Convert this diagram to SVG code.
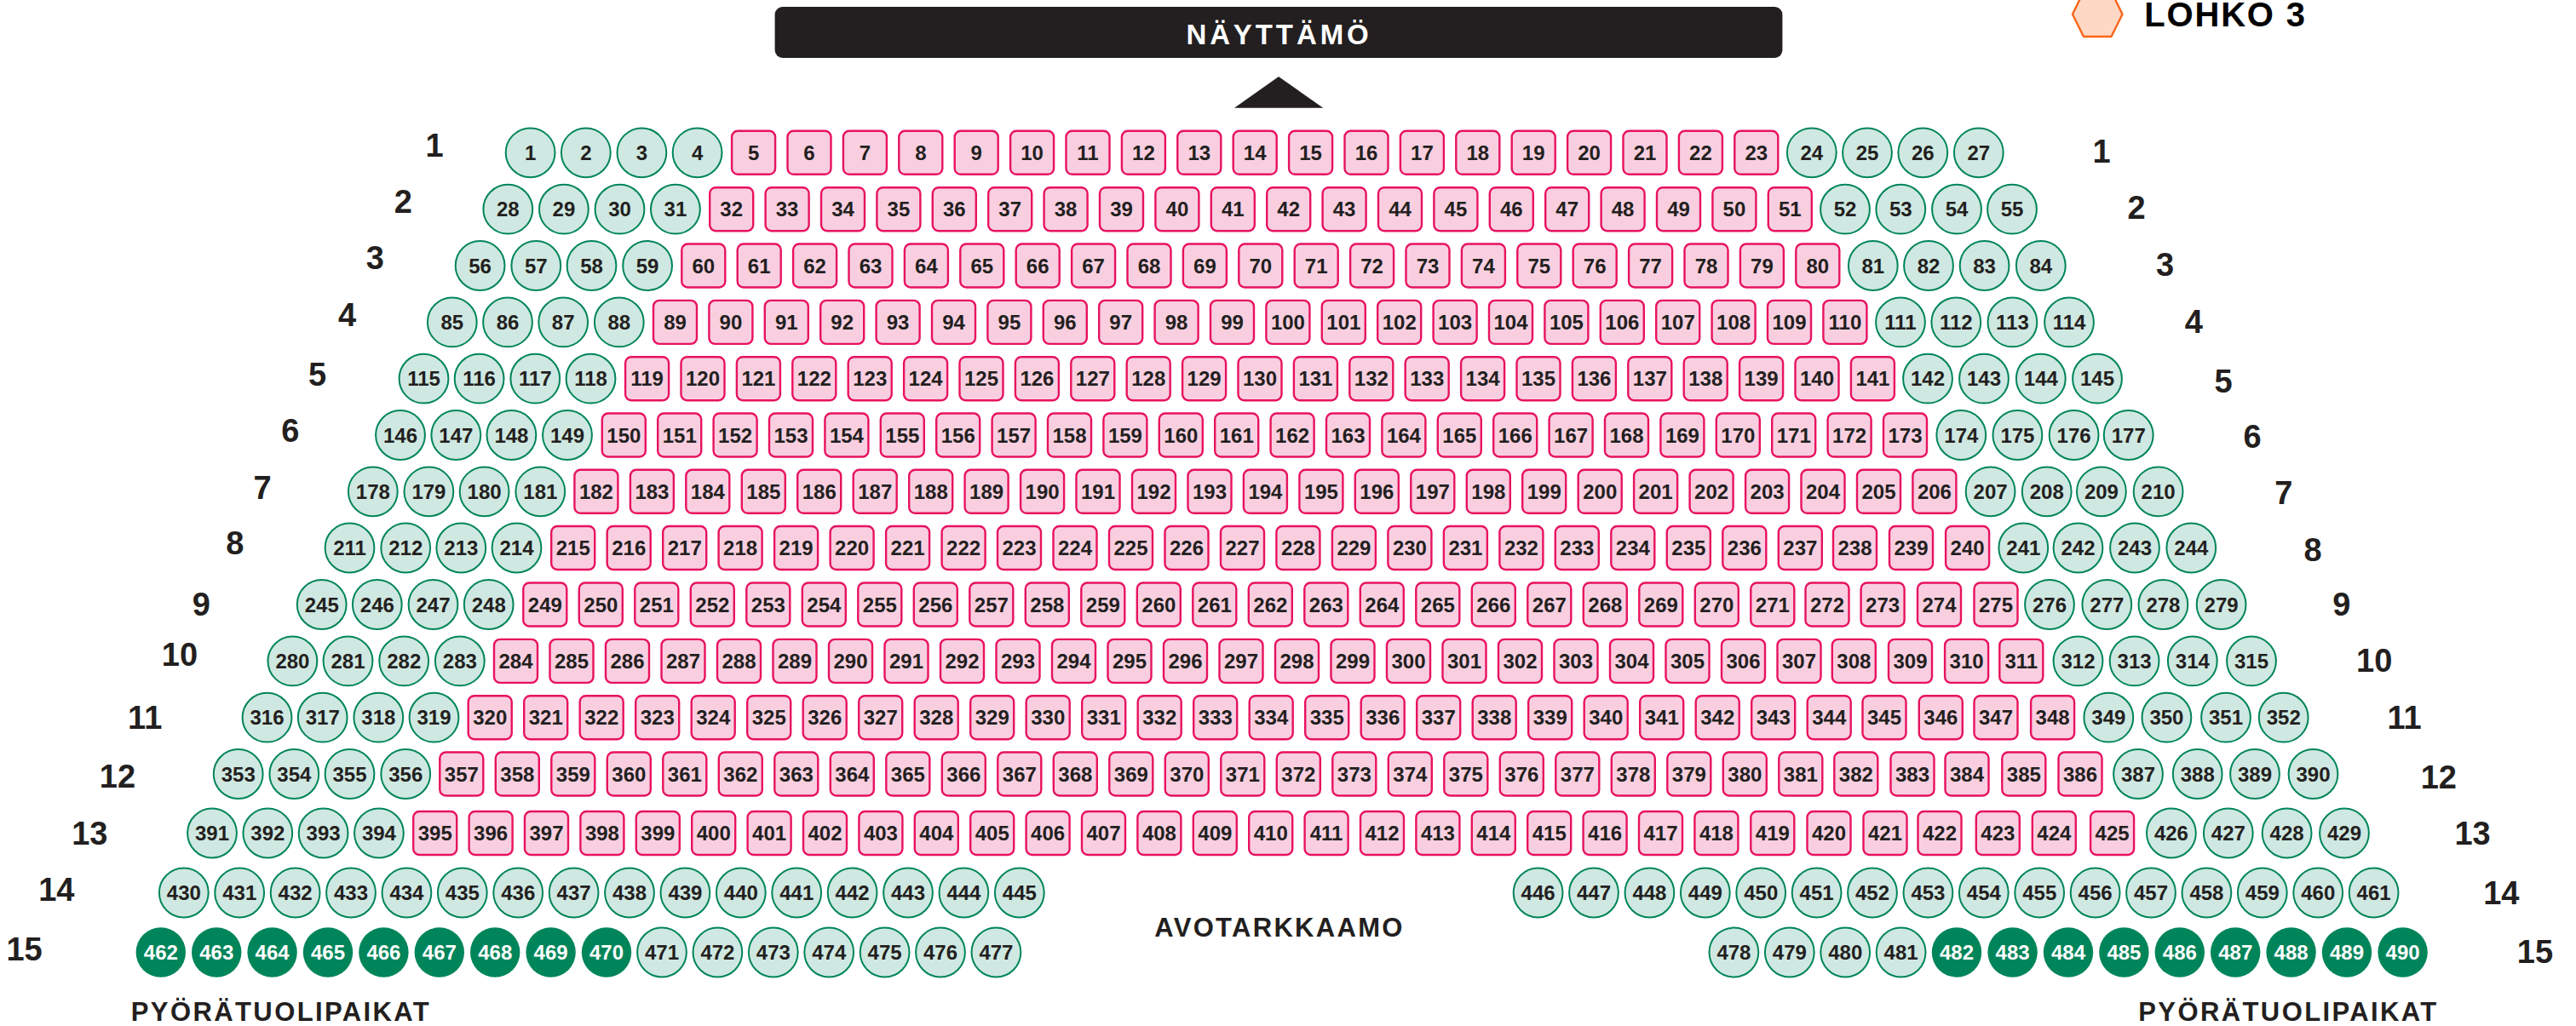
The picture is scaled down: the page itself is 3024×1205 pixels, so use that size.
<svg xmlns="http://www.w3.org/2000/svg" width="3024" height="1205" viewBox="0 0 3024 1205">
<style>
text{font-family:"Liberation Sans",Arial,sans-serif;font-weight:700;text-anchor:middle;fill:#231f20;stroke:none}
.s text{font-size:24px}
.g{fill:#cfe8e1;stroke:#00855a;stroke-width:2}
.p{fill:#f9cfe0;stroke:#e8125f;stroke-width:2.4}
.d{fill:#00855a;stroke:none}
.d text{fill:#fff}
.r{font-size:38px}
.h{font-size:31px;letter-spacing:2.4px}
</style>
<defs>
<circle id="c" r="28.9"/>
<circle id="e" r="29.2"/>
<rect id="q" x="-25.5" y="-25.5" width="51" height="51" rx="7"/>
</defs>
<rect id="stage" x="909.6" y="8" width="1182.8" height="60" rx="9" fill="#231f20"/>
<text x="1501.5" y="51.7" font-size="33" letter-spacing="3.9" fill="#fff" style="fill:#fff">NÄYTTÄMÖ</text>
<polygon id="stage-arrow" points="1501,90 1553.3,126.7 1449,126.7" fill="#231f20"/>
<polygon id="legend-hex" points="2433,16.7 2446,43 2478.5,43 2491.5,16.7 2478.5,-10 2446,-10" fill="#ffd8c5" stroke="#f9651a" stroke-width="2.4" stroke-linejoin="round"/>
<text x="2612.5" y="31" font-size="40" letter-spacing="1.8" style="fill:#000">LOHKO 3</text>
<g id="row-labels-left" class="r">
<text class="r" x="510" y="184">1</text><text class="r" x="473.4" y="250.3">2</text><text class="r" x="440.4" y="316.4">3</text><text class="r" x="407.6" y="383.3">4</text><text class="r" x="372.6" y="453.3">5</text><text class="r" x="340.8" y="518.9">6</text><text class="r" x="308" y="585.6">7</text><text class="r" x="275.7" y="651.4">8</text><text class="r" x="236.4" y="723">9</text><text class="r" x="211" y="782.3">10</text><text class="r" x="170.2" y="855.6">11</text><text class="r" x="138" y="925.3">12</text><text class="r" x="105.3" y="991.6">13</text><text class="r" x="66.3" y="1058.3">14</text><text class="r" x="28.6" y="1127.6">15</text>
</g>
<g id="row-labels-right" class="r">
<text class="r" x="2467" y="191">1</text><text class="r" x="2508" y="257">2</text><text class="r" x="2541.5" y="324">3</text><text class="r" x="2575.3" y="390.6">4</text><text class="r" x="2610" y="460.6">5</text><text class="r" x="2644" y="526">6</text><text class="r" x="2680.8" y="592">7</text><text class="r" x="2715" y="659.3">8</text><text class="r" x="2748.9" y="723">9</text><text class="r" x="2787.2" y="789.3">10</text><text class="r" x="2822.5" y="856.3">11</text><text class="r" x="2862.8" y="926">12</text><text class="r" x="2902.6" y="992.3">13</text><text class="r" x="2936.3" y="1062.3">14</text><text class="r" x="2976" y="1131">15</text>
</g>
<text x="1502" y="1100" font-size="31" style="letter-spacing:2.3px">AVOTARKKAAMO</text>
<text class="h" x="330" y="1199">PYÖRÄTUOLIPAIKAT</text>
<text class="h" x="2686.5" y="1199">PYÖRÄTUOLIPAIKAT</text>
<g id="row1" class="s" transform="translate(0 179.3)">
<g id="s1" class="g" transform="translate(622.6)"><use href="#c"/><text y="8.6">1</text></g>
<g id="s2" class="g" transform="translate(687.8)"><use href="#c"/><text y="8.6">2</text></g>
<g id="s3" class="g" transform="translate(753.4)"><use href="#c"/><text y="8.6">3</text></g>
<g id="s4" class="g" transform="translate(818.6)"><use href="#c"/><text y="8.6">4</text></g>
<g id="s5" class="p" transform="translate(884.6)"><use href="#q"/><text y="8.6">5</text></g>
<g id="s6" class="p" transform="translate(950)"><use href="#q"/><text y="8.6">6</text></g>
<g id="s7" class="p" transform="translate(1015.4)"><use href="#q"/><text y="8.6">7</text></g>
<g id="s8" class="p" transform="translate(1080.8)"><use href="#q"/><text y="8.6">8</text></g>
<g id="s9" class="p" transform="translate(1146.2)"><use href="#q"/><text y="8.6">9</text></g>
<g id="s10" class="p" transform="translate(1211.6)"><use href="#q"/><text y="8.6">10</text></g>
<g id="s11" class="p" transform="translate(1277)"><use href="#q"/><text y="8.6">11</text></g>
<g id="s12" class="p" transform="translate(1342.4)"><use href="#q"/><text y="8.6">12</text></g>
<g id="s13" class="p" transform="translate(1407.8)"><use href="#q"/><text y="8.6">13</text></g>
<g id="s14" class="p" transform="translate(1473.2)"><use href="#q"/><text y="8.6">14</text></g>
<g id="s15" class="p" transform="translate(1538.6)"><use href="#q"/><text y="8.6">15</text></g>
<g id="s16" class="p" transform="translate(1604)"><use href="#q"/><text y="8.6">16</text></g>
<g id="s17" class="p" transform="translate(1669.4)"><use href="#q"/><text y="8.6">17</text></g>
<g id="s18" class="p" transform="translate(1734.8)"><use href="#q"/><text y="8.6">18</text></g>
<g id="s19" class="p" transform="translate(1800.2)"><use href="#q"/><text y="8.6">19</text></g>
<g id="s20" class="p" transform="translate(1865.6)"><use href="#q"/><text y="8.6">20</text></g>
<g id="s21" class="p" transform="translate(1931)"><use href="#q"/><text y="8.6">21</text></g>
<g id="s22" class="p" transform="translate(1996.4)"><use href="#q"/><text y="8.6">22</text></g>
<g id="s23" class="p" transform="translate(2061.8)"><use href="#q"/><text y="8.6">23</text></g>
<g id="s24" class="g" transform="translate(2126.8)"><use href="#c"/><text y="8.6">24</text></g>
<g id="s25" class="g" transform="translate(2192)"><use href="#c"/><text y="8.6">25</text></g>
<g id="s26" class="g" transform="translate(2257.3)"><use href="#c"/><text y="8.6">26</text></g>
<g id="s27" class="g" transform="translate(2322.8)"><use href="#c"/><text y="8.6">27</text></g>
</g>
<g id="row2" class="s" transform="translate(0 245.7)">
<g id="s28" class="g" transform="translate(596.3)"><use href="#c"/><text y="8.6">28</text></g>
<g id="s29" class="g" transform="translate(661.9)"><use href="#c"/><text y="8.6">29</text></g>
<g id="s30" class="g" transform="translate(727.5)"><use href="#c"/><text y="8.6">30</text></g>
<g id="s31" class="g" transform="translate(792.9)"><use href="#c"/><text y="8.6">31</text></g>
<g id="s32" class="p" transform="translate(858.7)"><use href="#q"/><text y="8.6">32</text></g>
<g id="s33" class="p" transform="translate(924.1)"><use href="#q"/><text y="8.6">33</text></g>
<g id="s34" class="p" transform="translate(989.5)"><use href="#q"/><text y="8.6">34</text></g>
<g id="s35" class="p" transform="translate(1054.9)"><use href="#q"/><text y="8.6">35</text></g>
<g id="s36" class="p" transform="translate(1120.3)"><use href="#q"/><text y="8.6">36</text></g>
<g id="s37" class="p" transform="translate(1185.7)"><use href="#q"/><text y="8.6">37</text></g>
<g id="s38" class="p" transform="translate(1251.1)"><use href="#q"/><text y="8.6">38</text></g>
<g id="s39" class="p" transform="translate(1316.5)"><use href="#q"/><text y="8.6">39</text></g>
<g id="s40" class="p" transform="translate(1381.9)"><use href="#q"/><text y="8.6">40</text></g>
<g id="s41" class="p" transform="translate(1447.3)"><use href="#q"/><text y="8.6">41</text></g>
<g id="s42" class="p" transform="translate(1512.7)"><use href="#q"/><text y="8.6">42</text></g>
<g id="s43" class="p" transform="translate(1578.1)"><use href="#q"/><text y="8.6">43</text></g>
<g id="s44" class="p" transform="translate(1643.5)"><use href="#q"/><text y="8.6">44</text></g>
<g id="s45" class="p" transform="translate(1708.9)"><use href="#q"/><text y="8.6">45</text></g>
<g id="s46" class="p" transform="translate(1774.3)"><use href="#q"/><text y="8.6">46</text></g>
<g id="s47" class="p" transform="translate(1839.7)"><use href="#q"/><text y="8.6">47</text></g>
<g id="s48" class="p" transform="translate(1905.1)"><use href="#q"/><text y="8.6">48</text></g>
<g id="s49" class="p" transform="translate(1970.5)"><use href="#q"/><text y="8.6">49</text></g>
<g id="s50" class="p" transform="translate(2035.9)"><use href="#q"/><text y="8.6">50</text></g>
<g id="s51" class="p" transform="translate(2101.3)"><use href="#q"/><text y="8.6">51</text></g>
<g id="s52" class="g" transform="translate(2166)"><use href="#c"/><text y="8.6">52</text></g>
<g id="s53" class="g" transform="translate(2231.3)"><use href="#c"/><text y="8.6">53</text></g>
<g id="s54" class="g" transform="translate(2297)"><use href="#c"/><text y="8.6">54</text></g>
<g id="s55" class="g" transform="translate(2362)"><use href="#c"/><text y="8.6">55</text></g>
</g>
<g id="row3" class="s" transform="translate(0 312)">
<g id="s56" class="g" transform="translate(563.6)"><use href="#c"/><text y="8.6">56</text></g>
<g id="s57" class="g" transform="translate(629.3)"><use href="#c"/><text y="8.6">57</text></g>
<g id="s58" class="g" transform="translate(694.5)"><use href="#c"/><text y="8.6">58</text></g>
<g id="s59" class="g" transform="translate(760.1)"><use href="#c"/><text y="8.6">59</text></g>
<g id="s60" class="p" transform="translate(825.8)"><use href="#q"/><text y="8.6">60</text></g>
<g id="s61" class="p" transform="translate(891.2)"><use href="#q"/><text y="8.6">61</text></g>
<g id="s62" class="p" transform="translate(956.6)"><use href="#q"/><text y="8.6">62</text></g>
<g id="s63" class="p" transform="translate(1022)"><use href="#q"/><text y="8.6">63</text></g>
<g id="s64" class="p" transform="translate(1087.4)"><use href="#q"/><text y="8.6">64</text></g>
<g id="s65" class="p" transform="translate(1152.8)"><use href="#q"/><text y="8.6">65</text></g>
<g id="s66" class="p" transform="translate(1218.2)"><use href="#q"/><text y="8.6">66</text></g>
<g id="s67" class="p" transform="translate(1283.6)"><use href="#q"/><text y="8.6">67</text></g>
<g id="s68" class="p" transform="translate(1349)"><use href="#q"/><text y="8.6">68</text></g>
<g id="s69" class="p" transform="translate(1414.4)"><use href="#q"/><text y="8.6">69</text></g>
<g id="s70" class="p" transform="translate(1479.8)"><use href="#q"/><text y="8.6">70</text></g>
<g id="s71" class="p" transform="translate(1545.2)"><use href="#q"/><text y="8.6">71</text></g>
<g id="s72" class="p" transform="translate(1610.6)"><use href="#q"/><text y="8.6">72</text></g>
<g id="s73" class="p" transform="translate(1676)"><use href="#q"/><text y="8.6">73</text></g>
<g id="s74" class="p" transform="translate(1741.4)"><use href="#q"/><text y="8.6">74</text></g>
<g id="s75" class="p" transform="translate(1806.8)"><use href="#q"/><text y="8.6">75</text></g>
<g id="s76" class="p" transform="translate(1872.2)"><use href="#q"/><text y="8.6">76</text></g>
<g id="s77" class="p" transform="translate(1937.6)"><use href="#q"/><text y="8.6">77</text></g>
<g id="s78" class="p" transform="translate(2003)"><use href="#q"/><text y="8.6">78</text></g>
<g id="s79" class="p" transform="translate(2068.4)"><use href="#q"/><text y="8.6">79</text></g>
<g id="s80" class="p" transform="translate(2133.8)"><use href="#q"/><text y="8.6">80</text></g>
<g id="s81" class="g" transform="translate(2198.8)"><use href="#c"/><text y="8.6">81</text></g>
<g id="s82" class="g" transform="translate(2264)"><use href="#c"/><text y="8.6">82</text></g>
<g id="s83" class="g" transform="translate(2329.6)"><use href="#c"/><text y="8.6">83</text></g>
<g id="s84" class="g" transform="translate(2395.8)"><use href="#c"/><text y="8.6">84</text></g>
</g>
<g id="row4" class="s" transform="translate(0 378.4)">
<g id="s85" class="g" transform="translate(530.8)"><use href="#c"/><text y="8.6">85</text></g>
<g id="s86" class="g" transform="translate(596)"><use href="#c"/><text y="8.6">86</text></g>
<g id="s87" class="g" transform="translate(661.2)"><use href="#c"/><text y="8.6">87</text></g>
<g id="s88" class="g" transform="translate(726.8)"><use href="#c"/><text y="8.6">88</text></g>
<g id="s89" class="p" transform="translate(792.5)"><use href="#q"/><text y="8.6">89</text></g>
<g id="s90" class="p" transform="translate(857.9)"><use href="#q"/><text y="8.6">90</text></g>
<g id="s91" class="p" transform="translate(923.3)"><use href="#q"/><text y="8.6">91</text></g>
<g id="s92" class="p" transform="translate(988.7)"><use href="#q"/><text y="8.6">92</text></g>
<g id="s93" class="p" transform="translate(1054.1)"><use href="#q"/><text y="8.6">93</text></g>
<g id="s94" class="p" transform="translate(1119.5)"><use href="#q"/><text y="8.6">94</text></g>
<g id="s95" class="p" transform="translate(1184.9)"><use href="#q"/><text y="8.6">95</text></g>
<g id="s96" class="p" transform="translate(1250.3)"><use href="#q"/><text y="8.6">96</text></g>
<g id="s97" class="p" transform="translate(1315.7)"><use href="#q"/><text y="8.6">97</text></g>
<g id="s98" class="p" transform="translate(1381.1)"><use href="#q"/><text y="8.6">98</text></g>
<g id="s99" class="p" transform="translate(1446.5)"><use href="#q"/><text y="8.6">99</text></g>
<g id="s100" class="p" transform="translate(1511.9)"><use href="#q"/><text y="8.6">100</text></g>
<g id="s101" class="p" transform="translate(1577.3)"><use href="#q"/><text y="8.6">101</text></g>
<g id="s102" class="p" transform="translate(1642.7)"><use href="#q"/><text y="8.6">102</text></g>
<g id="s103" class="p" transform="translate(1708.1)"><use href="#q"/><text y="8.6">103</text></g>
<g id="s104" class="p" transform="translate(1773.5)"><use href="#q"/><text y="8.6">104</text></g>
<g id="s105" class="p" transform="translate(1838.9)"><use href="#q"/><text y="8.6">105</text></g>
<g id="s106" class="p" transform="translate(1904.3)"><use href="#q"/><text y="8.6">106</text></g>
<g id="s107" class="p" transform="translate(1969.7)"><use href="#q"/><text y="8.6">107</text></g>
<g id="s108" class="p" transform="translate(2035.1)"><use href="#q"/><text y="8.6">108</text></g>
<g id="s109" class="p" transform="translate(2100.5)"><use href="#q"/><text y="8.6">109</text></g>
<g id="s110" class="p" transform="translate(2165.9)"><use href="#q"/><text y="8.6">110</text></g>
<g id="s111" class="g" transform="translate(2231)"><use href="#c"/><text y="8.6">111</text></g>
<g id="s112" class="g" transform="translate(2296.3)"><use href="#c"/><text y="8.6">112</text></g>
<g id="s113" class="g" transform="translate(2362.4)"><use href="#c"/><text y="8.6">113</text></g>
<g id="s114" class="g" transform="translate(2429)"><use href="#c"/><text y="8.6">114</text></g>
</g>
<g id="row5" class="s" transform="translate(0 444.7)">
<g id="s115" class="g" transform="translate(497.5)"><use href="#c"/><text y="8.6">115</text></g>
<g id="s116" class="g" transform="translate(562.6)"><use href="#c"/><text y="8.6">116</text></g>
<g id="s117" class="g" transform="translate(628.3)"><use href="#c"/><text y="8.6">117</text></g>
<g id="s118" class="g" transform="translate(693.5)"><use href="#c"/><text y="8.6">118</text></g>
<g id="s119" class="p" transform="translate(759.6)"><use href="#q"/><text y="8.6">119</text></g>
<g id="s120" class="p" transform="translate(825)"><use href="#q"/><text y="8.6">120</text></g>
<g id="s121" class="p" transform="translate(890.4)"><use href="#q"/><text y="8.6">121</text></g>
<g id="s122" class="p" transform="translate(955.8)"><use href="#q"/><text y="8.6">122</text></g>
<g id="s123" class="p" transform="translate(1021.2)"><use href="#q"/><text y="8.6">123</text></g>
<g id="s124" class="p" transform="translate(1086.6)"><use href="#q"/><text y="8.6">124</text></g>
<g id="s125" class="p" transform="translate(1152)"><use href="#q"/><text y="8.6">125</text></g>
<g id="s126" class="p" transform="translate(1217.4)"><use href="#q"/><text y="8.6">126</text></g>
<g id="s127" class="p" transform="translate(1282.8)"><use href="#q"/><text y="8.6">127</text></g>
<g id="s128" class="p" transform="translate(1348.2)"><use href="#q"/><text y="8.6">128</text></g>
<g id="s129" class="p" transform="translate(1413.6)"><use href="#q"/><text y="8.6">129</text></g>
<g id="s130" class="p" transform="translate(1479)"><use href="#q"/><text y="8.6">130</text></g>
<g id="s131" class="p" transform="translate(1544.4)"><use href="#q"/><text y="8.6">131</text></g>
<g id="s132" class="p" transform="translate(1609.8)"><use href="#q"/><text y="8.6">132</text></g>
<g id="s133" class="p" transform="translate(1675.2)"><use href="#q"/><text y="8.6">133</text></g>
<g id="s134" class="p" transform="translate(1740.6)"><use href="#q"/><text y="8.6">134</text></g>
<g id="s135" class="p" transform="translate(1806)"><use href="#q"/><text y="8.6">135</text></g>
<g id="s136" class="p" transform="translate(1871.4)"><use href="#q"/><text y="8.6">136</text></g>
<g id="s137" class="p" transform="translate(1936.8)"><use href="#q"/><text y="8.6">137</text></g>
<g id="s138" class="p" transform="translate(2002.2)"><use href="#q"/><text y="8.6">138</text></g>
<g id="s139" class="p" transform="translate(2067.6)"><use href="#q"/><text y="8.6">139</text></g>
<g id="s140" class="p" transform="translate(2133)"><use href="#q"/><text y="8.6">140</text></g>
<g id="s141" class="p" transform="translate(2198.4)"><use href="#q"/><text y="8.6">141</text></g>
<g id="s142" class="g" transform="translate(2263)"><use href="#c"/><text y="8.6">142</text></g>
<g id="s143" class="g" transform="translate(2329)"><use href="#c"/><text y="8.6">143</text></g>
<g id="s144" class="g" transform="translate(2395.8)"><use href="#c"/><text y="8.6">144</text></g>
<g id="s145" class="g" transform="translate(2462)"><use href="#c"/><text y="8.6">145</text></g>
</g>
<g id="row6" class="s" transform="translate(0 511)">
<g id="s146" class="g" transform="translate(470)"><use href="#c"/><text y="8.6">146</text></g>
<g id="s147" class="g" transform="translate(535.3)"><use href="#c"/><text y="8.6">147</text></g>
<g id="s148" class="g" transform="translate(600.4)"><use href="#c"/><text y="8.6">148</text></g>
<g id="s149" class="g" transform="translate(666)"><use href="#c"/><text y="8.6">149</text></g>
<g id="s150" class="p" transform="translate(732.3)"><use href="#q"/><text y="8.6">150</text></g>
<g id="s151" class="p" transform="translate(797.7)"><use href="#q"/><text y="8.6">151</text></g>
<g id="s152" class="p" transform="translate(863.1)"><use href="#q"/><text y="8.6">152</text></g>
<g id="s153" class="p" transform="translate(928.5)"><use href="#q"/><text y="8.6">153</text></g>
<g id="s154" class="p" transform="translate(993.9)"><use href="#q"/><text y="8.6">154</text></g>
<g id="s155" class="p" transform="translate(1059.3)"><use href="#q"/><text y="8.6">155</text></g>
<g id="s156" class="p" transform="translate(1124.7)"><use href="#q"/><text y="8.6">156</text></g>
<g id="s157" class="p" transform="translate(1190.1)"><use href="#q"/><text y="8.6">157</text></g>
<g id="s158" class="p" transform="translate(1255.5)"><use href="#q"/><text y="8.6">158</text></g>
<g id="s159" class="p" transform="translate(1320.9)"><use href="#q"/><text y="8.6">159</text></g>
<g id="s160" class="p" transform="translate(1386.3)"><use href="#q"/><text y="8.6">160</text></g>
<g id="s161" class="p" transform="translate(1451.7)"><use href="#q"/><text y="8.6">161</text></g>
<g id="s162" class="p" transform="translate(1517.1)"><use href="#q"/><text y="8.6">162</text></g>
<g id="s163" class="p" transform="translate(1582.5)"><use href="#q"/><text y="8.6">163</text></g>
<g id="s164" class="p" transform="translate(1647.9)"><use href="#q"/><text y="8.6">164</text></g>
<g id="s165" class="p" transform="translate(1713.3)"><use href="#q"/><text y="8.6">165</text></g>
<g id="s166" class="p" transform="translate(1778.7)"><use href="#q"/><text y="8.6">166</text></g>
<g id="s167" class="p" transform="translate(1844.1)"><use href="#q"/><text y="8.6">167</text></g>
<g id="s168" class="p" transform="translate(1909.5)"><use href="#q"/><text y="8.6">168</text></g>
<g id="s169" class="p" transform="translate(1974.9)"><use href="#q"/><text y="8.6">169</text></g>
<g id="s170" class="p" transform="translate(2040.3)"><use href="#q"/><text y="8.6">170</text></g>
<g id="s171" class="p" transform="translate(2105.7)"><use href="#q"/><text y="8.6">171</text></g>
<g id="s172" class="p" transform="translate(2171.1)"><use href="#q"/><text y="8.6">172</text></g>
<g id="s173" class="p" transform="translate(2236.5)"><use href="#q"/><text y="8.6">173</text></g>
<g id="s174" class="g" transform="translate(2302.3)"><use href="#c"/><text y="8.6">174</text></g>
<g id="s175" class="g" transform="translate(2368.4)"><use href="#c"/><text y="8.6">175</text></g>
<g id="s176" class="g" transform="translate(2434.6)"><use href="#c"/><text y="8.6">176</text></g>
<g id="s177" class="g" transform="translate(2498.7)"><use href="#c"/><text y="8.6">177</text></g>
</g>
<g id="row7" class="s" transform="translate(0 577.3)">
<g id="s178" class="g" transform="translate(437.8)"><use href="#c"/><text y="8.6">178</text></g>
<g id="s179" class="g" transform="translate(503.4)"><use href="#c"/><text y="8.6">179</text></g>
<g id="s180" class="g" transform="translate(568.6)"><use href="#c"/><text y="8.6">180</text></g>
<g id="s181" class="g" transform="translate(634.3)"><use href="#c"/><text y="8.6">181</text></g>
<g id="s182" class="p" transform="translate(699.9)"><use href="#q"/><text y="8.6">182</text></g>
<g id="s183" class="p" transform="translate(765.4)"><use href="#q"/><text y="8.6">183</text></g>
<g id="s184" class="p" transform="translate(830.8)"><use href="#q"/><text y="8.6">184</text></g>
<g id="s185" class="p" transform="translate(896.3)"><use href="#q"/><text y="8.6">185</text></g>
<g id="s186" class="p" transform="translate(961.7)"><use href="#q"/><text y="8.6">186</text></g>
<g id="s187" class="p" transform="translate(1027.2)"><use href="#q"/><text y="8.6">187</text></g>
<g id="s188" class="p" transform="translate(1092.7)"><use href="#q"/><text y="8.6">188</text></g>
<g id="s189" class="p" transform="translate(1158.1)"><use href="#q"/><text y="8.6">189</text></g>
<g id="s190" class="p" transform="translate(1223.6)"><use href="#q"/><text y="8.6">190</text></g>
<g id="s191" class="p" transform="translate(1289)"><use href="#q"/><text y="8.6">191</text></g>
<g id="s192" class="p" transform="translate(1354.5)"><use href="#q"/><text y="8.6">192</text></g>
<g id="s193" class="p" transform="translate(1420)"><use href="#q"/><text y="8.6">193</text></g>
<g id="s194" class="p" transform="translate(1485.4)"><use href="#q"/><text y="8.6">194</text></g>
<g id="s195" class="p" transform="translate(1550.9)"><use href="#q"/><text y="8.6">195</text></g>
<g id="s196" class="p" transform="translate(1616.3)"><use href="#q"/><text y="8.6">196</text></g>
<g id="s197" class="p" transform="translate(1681.8)"><use href="#q"/><text y="8.6">197</text></g>
<g id="s198" class="p" transform="translate(1747.3)"><use href="#q"/><text y="8.6">198</text></g>
<g id="s199" class="p" transform="translate(1812.7)"><use href="#q"/><text y="8.6">199</text></g>
<g id="s200" class="p" transform="translate(1878.2)"><use href="#q"/><text y="8.6">200</text></g>
<g id="s201" class="p" transform="translate(1943.6)"><use href="#q"/><text y="8.6">201</text></g>
<g id="s202" class="p" transform="translate(2009.1)"><use href="#q"/><text y="8.6">202</text></g>
<g id="s203" class="p" transform="translate(2074.6)"><use href="#q"/><text y="8.6">203</text></g>
<g id="s204" class="p" transform="translate(2140)"><use href="#q"/><text y="8.6">204</text></g>
<g id="s205" class="p" transform="translate(2205.5)"><use href="#q"/><text y="8.6">205</text></g>
<g id="s206" class="p" transform="translate(2270.9)"><use href="#q"/><text y="8.6">206</text></g>
<g id="s207" class="g" transform="translate(2336.6)"><use href="#c"/><text y="8.6">207</text></g>
<g id="s208" class="g" transform="translate(2402.7)"><use href="#c"/><text y="8.6">208</text></g>
<g id="s209" class="g" transform="translate(2466.9)"><use href="#c"/><text y="8.6">209</text></g>
<g id="s210" class="g" transform="translate(2533.6)"><use href="#c"/><text y="8.6">210</text></g>
</g>
<g id="row8" class="s" transform="translate(0 643.5)">
<g id="s211" class="g" transform="translate(410.5)"><use href="#c"/><text y="8.6">211</text></g>
<g id="s212" class="g" transform="translate(476.2)"><use href="#c"/><text y="8.6">212</text></g>
<g id="s213" class="g" transform="translate(541.3)"><use href="#c"/><text y="8.6">213</text></g>
<g id="s214" class="g" transform="translate(606.5)"><use href="#c"/><text y="8.6">214</text></g>
<g id="s215" class="p" transform="translate(672.7)"><use href="#q"/><text y="8.6">215</text></g>
<g id="s216" class="p" transform="translate(738.2)"><use href="#q"/><text y="8.6">216</text></g>
<g id="s217" class="p" transform="translate(803.7)"><use href="#q"/><text y="8.6">217</text></g>
<g id="s218" class="p" transform="translate(869.1)"><use href="#q"/><text y="8.6">218</text></g>
<g id="s219" class="p" transform="translate(934.6)"><use href="#q"/><text y="8.6">219</text></g>
<g id="s220" class="p" transform="translate(1000.1)"><use href="#q"/><text y="8.6">220</text></g>
<g id="s221" class="p" transform="translate(1065.6)"><use href="#q"/><text y="8.6">221</text></g>
<g id="s222" class="p" transform="translate(1131.1)"><use href="#q"/><text y="8.6">222</text></g>
<g id="s223" class="p" transform="translate(1196.5)"><use href="#q"/><text y="8.6">223</text></g>
<g id="s224" class="p" transform="translate(1262)"><use href="#q"/><text y="8.6">224</text></g>
<g id="s225" class="p" transform="translate(1327.5)"><use href="#q"/><text y="8.6">225</text></g>
<g id="s226" class="p" transform="translate(1393)"><use href="#q"/><text y="8.6">226</text></g>
<g id="s227" class="p" transform="translate(1458.5)"><use href="#q"/><text y="8.6">227</text></g>
<g id="s228" class="p" transform="translate(1523.9)"><use href="#q"/><text y="8.6">228</text></g>
<g id="s229" class="p" transform="translate(1589.4)"><use href="#q"/><text y="8.6">229</text></g>
<g id="s230" class="p" transform="translate(1654.9)"><use href="#q"/><text y="8.6">230</text></g>
<g id="s231" class="p" transform="translate(1720.4)"><use href="#q"/><text y="8.6">231</text></g>
<g id="s232" class="p" transform="translate(1785.9)"><use href="#q"/><text y="8.6">232</text></g>
<g id="s233" class="p" transform="translate(1851.3)"><use href="#q"/><text y="8.6">233</text></g>
<g id="s234" class="p" transform="translate(1916.8)"><use href="#q"/><text y="8.6">234</text></g>
<g id="s235" class="p" transform="translate(1982.3)"><use href="#q"/><text y="8.6">235</text></g>
<g id="s236" class="p" transform="translate(2047.8)"><use href="#q"/><text y="8.6">236</text></g>
<g id="s237" class="p" transform="translate(2113.3)"><use href="#q"/><text y="8.6">237</text></g>
<g id="s238" class="p" transform="translate(2177.5)"><use href="#q"/><text y="8.6">238</text></g>
<g id="s239" class="p" transform="translate(2243.5)"><use href="#q"/><text y="8.6">239</text></g>
<g id="s240" class="p" transform="translate(2309.6)"><use href="#q"/><text y="8.6">240</text></g>
<g id="s241" class="g" transform="translate(2375.3)"><use href="#c"/><text y="8.6">241</text></g>
<g id="s242" class="g" transform="translate(2439.5)"><use href="#c"/><text y="8.6">242</text></g>
<g id="s243" class="g" transform="translate(2506)"><use href="#c"/><text y="8.6">243</text></g>
<g id="s244" class="g" transform="translate(2572.3)"><use href="#c"/><text y="8.6">244</text></g>
</g>
<g id="row9" class="s" transform="translate(0 710)">
<g id="s245" class="g" transform="translate(377.7)"><use href="#c"/><text y="8.6">245</text></g>
<g id="s246" class="g" transform="translate(442.8)"><use href="#c"/><text y="8.6">246</text></g>
<g id="s247" class="g" transform="translate(508.5)"><use href="#c"/><text y="8.6">247</text></g>
<g id="s248" class="g" transform="translate(573.7)"><use href="#c"/><text y="8.6">248</text></g>
<g id="s249" class="p" transform="translate(639.8)"><use href="#q"/><text y="8.6">249</text></g>
<g id="s250" class="p" transform="translate(705.3)"><use href="#q"/><text y="8.6">250</text></g>
<g id="s251" class="p" transform="translate(770.8)"><use href="#q"/><text y="8.6">251</text></g>
<g id="s252" class="p" transform="translate(836.3)"><use href="#q"/><text y="8.6">252</text></g>
<g id="s253" class="p" transform="translate(901.8)"><use href="#q"/><text y="8.6">253</text></g>
<g id="s254" class="p" transform="translate(967.3)"><use href="#q"/><text y="8.6">254</text></g>
<g id="s255" class="p" transform="translate(1032.8)"><use href="#q"/><text y="8.6">255</text></g>
<g id="s256" class="p" transform="translate(1098.3)"><use href="#q"/><text y="8.6">256</text></g>
<g id="s257" class="p" transform="translate(1163.8)"><use href="#q"/><text y="8.6">257</text></g>
<g id="s258" class="p" transform="translate(1229.3)"><use href="#q"/><text y="8.6">258</text></g>
<g id="s259" class="p" transform="translate(1294.8)"><use href="#q"/><text y="8.6">259</text></g>
<g id="s260" class="p" transform="translate(1360.3)"><use href="#q"/><text y="8.6">260</text></g>
<g id="s261" class="p" transform="translate(1425.8)"><use href="#q"/><text y="8.6">261</text></g>
<g id="s262" class="p" transform="translate(1491.3)"><use href="#q"/><text y="8.6">262</text></g>
<g id="s263" class="p" transform="translate(1556.8)"><use href="#q"/><text y="8.6">263</text></g>
<g id="s264" class="p" transform="translate(1622.3)"><use href="#q"/><text y="8.6">264</text></g>
<g id="s265" class="p" transform="translate(1687.8)"><use href="#q"/><text y="8.6">265</text></g>
<g id="s266" class="p" transform="translate(1753.3)"><use href="#q"/><text y="8.6">266</text></g>
<g id="s267" class="p" transform="translate(1818.8)"><use href="#q"/><text y="8.6">267</text></g>
<g id="s268" class="p" transform="translate(1884.3)"><use href="#q"/><text y="8.6">268</text></g>
<g id="s269" class="p" transform="translate(1949.8)"><use href="#q"/><text y="8.6">269</text></g>
<g id="s270" class="p" transform="translate(2015.3)"><use href="#q"/><text y="8.6">270</text></g>
<g id="s271" class="p" transform="translate(2080.8)"><use href="#q"/><text y="8.6">271</text></g>
<g id="s272" class="p" transform="translate(2145)"><use href="#q"/><text y="8.6">272</text></g>
<g id="s273" class="p" transform="translate(2210.1)"><use href="#q"/><text y="8.6">273</text></g>
<g id="s274" class="p" transform="translate(2276.5)"><use href="#q"/><text y="8.6">274</text></g>
<g id="s275" class="p" transform="translate(2343)"><use href="#q"/><text y="8.6">275</text></g>
<g id="s276" class="g" transform="translate(2406)"><use href="#c"/><text y="8.6">276</text></g>
<g id="s277" class="g" transform="translate(2473.3)"><use href="#c"/><text y="8.6">277</text></g>
<g id="s278" class="g" transform="translate(2539.4)"><use href="#c"/><text y="8.6">278</text></g>
<g id="s279" class="g" transform="translate(2607.6)"><use href="#c"/><text y="8.6">279</text></g>
</g>
<g id="row10" class="s" transform="translate(0 776.4)">
<g id="s280" class="g" transform="translate(343.4)"><use href="#c"/><text y="8.6">280</text></g>
<g id="s281" class="g" transform="translate(408.5)"><use href="#c"/><text y="8.6">281</text></g>
<g id="s282" class="g" transform="translate(474.2)"><use href="#c"/><text y="8.6">282</text></g>
<g id="s283" class="g" transform="translate(539.8)"><use href="#c"/><text y="8.6">283</text></g>
<g id="s284" class="p" transform="translate(605.5)"><use href="#q"/><text y="8.6">284</text></g>
<g id="s285" class="p" transform="translate(671)"><use href="#q"/><text y="8.6">285</text></g>
<g id="s286" class="p" transform="translate(736.5)"><use href="#q"/><text y="8.6">286</text></g>
<g id="s287" class="p" transform="translate(802)"><use href="#q"/><text y="8.6">287</text></g>
<g id="s288" class="p" transform="translate(867.5)"><use href="#q"/><text y="8.6">288</text></g>
<g id="s289" class="p" transform="translate(933)"><use href="#q"/><text y="8.6">289</text></g>
<g id="s290" class="p" transform="translate(998.5)"><use href="#q"/><text y="8.6">290</text></g>
<g id="s291" class="p" transform="translate(1064)"><use href="#q"/><text y="8.6">291</text></g>
<g id="s292" class="p" transform="translate(1129.5)"><use href="#q"/><text y="8.6">292</text></g>
<g id="s293" class="p" transform="translate(1195)"><use href="#q"/><text y="8.6">293</text></g>
<g id="s294" class="p" transform="translate(1260.5)"><use href="#q"/><text y="8.6">294</text></g>
<g id="s295" class="p" transform="translate(1326)"><use href="#q"/><text y="8.6">295</text></g>
<g id="s296" class="p" transform="translate(1391.5)"><use href="#q"/><text y="8.6">296</text></g>
<g id="s297" class="p" transform="translate(1457)"><use href="#q"/><text y="8.6">297</text></g>
<g id="s298" class="p" transform="translate(1522.5)"><use href="#q"/><text y="8.6">298</text></g>
<g id="s299" class="p" transform="translate(1588)"><use href="#q"/><text y="8.6">299</text></g>
<g id="s300" class="p" transform="translate(1653.5)"><use href="#q"/><text y="8.6">300</text></g>
<g id="s301" class="p" transform="translate(1719)"><use href="#q"/><text y="8.6">301</text></g>
<g id="s302" class="p" transform="translate(1784.5)"><use href="#q"/><text y="8.6">302</text></g>
<g id="s303" class="p" transform="translate(1850)"><use href="#q"/><text y="8.6">303</text></g>
<g id="s304" class="p" transform="translate(1915.5)"><use href="#q"/><text y="8.6">304</text></g>
<g id="s305" class="p" transform="translate(1981)"><use href="#q"/><text y="8.6">305</text></g>
<g id="s306" class="p" transform="translate(2046.5)"><use href="#q"/><text y="8.6">306</text></g>
<g id="s307" class="p" transform="translate(2112)"><use href="#q"/><text y="8.6">307</text></g>
<g id="s308" class="p" transform="translate(2176.3)"><use href="#q"/><text y="8.6">308</text></g>
<g id="s309" class="p" transform="translate(2242.5)"><use href="#q"/><text y="8.6">309</text></g>
<g id="s310" class="p" transform="translate(2308.6)"><use href="#q"/><text y="8.6">310</text></g>
<g id="s311" class="p" transform="translate(2372.8)"><use href="#q"/><text y="8.6">311</text></g>
<g id="s312" class="g" transform="translate(2439.5)"><use href="#c"/><text y="8.6">312</text></g>
<g id="s313" class="g" transform="translate(2505.6)"><use href="#c"/><text y="8.6">313</text></g>
<g id="s314" class="g" transform="translate(2573.8)"><use href="#c"/><text y="8.6">314</text></g>
<g id="s315" class="g" transform="translate(2643)"><use href="#c"/><text y="8.6">315</text></g>
</g>
<g id="row11" class="s" transform="translate(0 842.7)">
<g id="s316" class="g" transform="translate(313.5)"><use href="#c"/><text y="8.6">316</text></g>
<g id="s317" class="g" transform="translate(378.7)"><use href="#c"/><text y="8.6">317</text></g>
<g id="s318" class="g" transform="translate(444.3)"><use href="#c"/><text y="8.6">318</text></g>
<g id="s319" class="g" transform="translate(509.5)"><use href="#c"/><text y="8.6">319</text></g>
<g id="s320" class="p" transform="translate(575.2)"><use href="#q"/><text y="8.6">320</text></g>
<g id="s321" class="p" transform="translate(640.7)"><use href="#q"/><text y="8.6">321</text></g>
<g id="s322" class="p" transform="translate(706.2)"><use href="#q"/><text y="8.6">322</text></g>
<g id="s323" class="p" transform="translate(771.7)"><use href="#q"/><text y="8.6">323</text></g>
<g id="s324" class="p" transform="translate(837.2)"><use href="#q"/><text y="8.6">324</text></g>
<g id="s325" class="p" transform="translate(902.7)"><use href="#q"/><text y="8.6">325</text></g>
<g id="s326" class="p" transform="translate(968.2)"><use href="#q"/><text y="8.6">326</text></g>
<g id="s327" class="p" transform="translate(1033.7)"><use href="#q"/><text y="8.6">327</text></g>
<g id="s328" class="p" transform="translate(1099.2)"><use href="#q"/><text y="8.6">328</text></g>
<g id="s329" class="p" transform="translate(1164.7)"><use href="#q"/><text y="8.6">329</text></g>
<g id="s330" class="p" transform="translate(1230.2)"><use href="#q"/><text y="8.6">330</text></g>
<g id="s331" class="p" transform="translate(1295.7)"><use href="#q"/><text y="8.6">331</text></g>
<g id="s332" class="p" transform="translate(1361.2)"><use href="#q"/><text y="8.6">332</text></g>
<g id="s333" class="p" transform="translate(1426.7)"><use href="#q"/><text y="8.6">333</text></g>
<g id="s334" class="p" transform="translate(1492.2)"><use href="#q"/><text y="8.6">334</text></g>
<g id="s335" class="p" transform="translate(1557.7)"><use href="#q"/><text y="8.6">335</text></g>
<g id="s336" class="p" transform="translate(1623.2)"><use href="#q"/><text y="8.6">336</text></g>
<g id="s337" class="p" transform="translate(1688.7)"><use href="#q"/><text y="8.6">337</text></g>
<g id="s338" class="p" transform="translate(1754.2)"><use href="#q"/><text y="8.6">338</text></g>
<g id="s339" class="p" transform="translate(1819.7)"><use href="#q"/><text y="8.6">339</text></g>
<g id="s340" class="p" transform="translate(1885.2)"><use href="#q"/><text y="8.6">340</text></g>
<g id="s341" class="p" transform="translate(1950.7)"><use href="#q"/><text y="8.6">341</text></g>
<g id="s342" class="p" transform="translate(2016.2)"><use href="#q"/><text y="8.6">342</text></g>
<g id="s343" class="p" transform="translate(2081.7)"><use href="#q"/><text y="8.6">343</text></g>
<g id="s344" class="p" transform="translate(2147.2)"><use href="#q"/><text y="8.6">344</text></g>
<g id="s345" class="p" transform="translate(2212)"><use href="#q"/><text y="8.6">345</text></g>
<g id="s346" class="p" transform="translate(2278.3)"><use href="#q"/><text y="8.6">346</text></g>
<g id="s347" class="p" transform="translate(2343)"><use href="#q"/><text y="8.6">347</text></g>
<g id="s348" class="p" transform="translate(2409.6)"><use href="#q"/><text y="8.6">348</text></g>
<g id="s349" class="g" transform="translate(2475.3)"><use href="#c"/><text y="8.6">349</text></g>
<g id="s350" class="g" transform="translate(2543.4)"><use href="#c"/><text y="8.6">350</text></g>
<g id="s351" class="g" transform="translate(2613)"><use href="#c"/><text y="8.6">351</text></g>
<g id="s352" class="g" transform="translate(2680.7)"><use href="#c"/><text y="8.6">352</text></g>
</g>
<g id="row12" class="s" transform="translate(0 909)">
<g id="s353" class="g" transform="translate(279.7)"><use href="#c"/><text y="8.6">353</text></g>
<g id="s354" class="g" transform="translate(345.3)"><use href="#c"/><text y="8.6">354</text></g>
<g id="s355" class="g" transform="translate(410.5)"><use href="#c"/><text y="8.6">355</text></g>
<g id="s356" class="g" transform="translate(476.2)"><use href="#c"/><text y="8.6">356</text></g>
<g id="s357" class="p" transform="translate(541.8)"><use href="#q"/><text y="8.6">357</text></g>
<g id="s358" class="p" transform="translate(607.3)"><use href="#q"/><text y="8.6">358</text></g>
<g id="s359" class="p" transform="translate(672.8)"><use href="#q"/><text y="8.6">359</text></g>
<g id="s360" class="p" transform="translate(738.3)"><use href="#q"/><text y="8.6">360</text></g>
<g id="s361" class="p" transform="translate(803.8)"><use href="#q"/><text y="8.6">361</text></g>
<g id="s362" class="p" transform="translate(869.3)"><use href="#q"/><text y="8.6">362</text></g>
<g id="s363" class="p" transform="translate(934.8)"><use href="#q"/><text y="8.6">363</text></g>
<g id="s364" class="p" transform="translate(1000.3)"><use href="#q"/><text y="8.6">364</text></g>
<g id="s365" class="p" transform="translate(1065.8)"><use href="#q"/><text y="8.6">365</text></g>
<g id="s366" class="p" transform="translate(1131.3)"><use href="#q"/><text y="8.6">366</text></g>
<g id="s367" class="p" transform="translate(1196.8)"><use href="#q"/><text y="8.6">367</text></g>
<g id="s368" class="p" transform="translate(1262.3)"><use href="#q"/><text y="8.6">368</text></g>
<g id="s369" class="p" transform="translate(1327.8)"><use href="#q"/><text y="8.6">369</text></g>
<g id="s370" class="p" transform="translate(1393.3)"><use href="#q"/><text y="8.6">370</text></g>
<g id="s371" class="p" transform="translate(1458.8)"><use href="#q"/><text y="8.6">371</text></g>
<g id="s372" class="p" transform="translate(1524.3)"><use href="#q"/><text y="8.6">372</text></g>
<g id="s373" class="p" transform="translate(1589.8)"><use href="#q"/><text y="8.6">373</text></g>
<g id="s374" class="p" transform="translate(1655.3)"><use href="#q"/><text y="8.6">374</text></g>
<g id="s375" class="p" transform="translate(1720.8)"><use href="#q"/><text y="8.6">375</text></g>
<g id="s376" class="p" transform="translate(1786.3)"><use href="#q"/><text y="8.6">376</text></g>
<g id="s377" class="p" transform="translate(1851.8)"><use href="#q"/><text y="8.6">377</text></g>
<g id="s378" class="p" transform="translate(1917.3)"><use href="#q"/><text y="8.6">378</text></g>
<g id="s379" class="p" transform="translate(1982.8)"><use href="#q"/><text y="8.6">379</text></g>
<g id="s380" class="p" transform="translate(2048.3)"><use href="#q"/><text y="8.6">380</text></g>
<g id="s381" class="p" transform="translate(2113.8)"><use href="#q"/><text y="8.6">381</text></g>
<g id="s382" class="p" transform="translate(2178.8)"><use href="#q"/><text y="8.6">382</text></g>
<g id="s383" class="p" transform="translate(2245)"><use href="#q"/><text y="8.6">383</text></g>
<g id="s384" class="p" transform="translate(2309)"><use href="#q"/><text y="8.6">384</text></g>
<g id="s385" class="p" transform="translate(2375.8)"><use href="#q"/><text y="8.6">385</text></g>
<g id="s386" class="p" transform="translate(2442)"><use href="#q"/><text y="8.6">386</text></g>
<g id="s387" class="g" transform="translate(2510)"><use href="#c"/><text y="8.6">387</text></g>
<g id="s388" class="g" transform="translate(2579.7)"><use href="#c"/><text y="8.6">388</text></g>
<g id="s389" class="g" transform="translate(2647)"><use href="#c"/><text y="8.6">389</text></g>
<g id="s390" class="g" transform="translate(2715.5)"><use href="#c"/><text y="8.6">390</text></g>
</g>
<g id="row13" class="s" transform="translate(0 978.5)">
<g id="s391" class="g" transform="translate(249)"><use href="#c"/><text y="8.6">391</text></g>
<g id="s392" class="g" transform="translate(314.3)"><use href="#c"/><text y="8.6">392</text></g>
<g id="s393" class="g" transform="translate(379.6)"><use href="#c"/><text y="8.6">393</text></g>
<g id="s394" class="g" transform="translate(444.9)"><use href="#c"/><text y="8.6">394</text></g>
<g id="s395" class="p" transform="translate(510.7)"><use href="#q"/><text y="8.6">395</text></g>
<g id="s396" class="p" transform="translate(576.1)"><use href="#q"/><text y="8.6">396</text></g>
<g id="s397" class="p" transform="translate(641.5)"><use href="#q"/><text y="8.6">397</text></g>
<g id="s398" class="p" transform="translate(706.9)"><use href="#q"/><text y="8.6">398</text></g>
<g id="s399" class="p" transform="translate(772.3)"><use href="#q"/><text y="8.6">399</text></g>
<g id="s400" class="p" transform="translate(837.7)"><use href="#q"/><text y="8.6">400</text></g>
<g id="s401" class="p" transform="translate(903.1)"><use href="#q"/><text y="8.6">401</text></g>
<g id="s402" class="p" transform="translate(968.5)"><use href="#q"/><text y="8.6">402</text></g>
<g id="s403" class="p" transform="translate(1033.9)"><use href="#q"/><text y="8.6">403</text></g>
<g id="s404" class="p" transform="translate(1099.3)"><use href="#q"/><text y="8.6">404</text></g>
<g id="s405" class="p" transform="translate(1164.7)"><use href="#q"/><text y="8.6">405</text></g>
<g id="s406" class="p" transform="translate(1230.1)"><use href="#q"/><text y="8.6">406</text></g>
<g id="s407" class="p" transform="translate(1295.5)"><use href="#q"/><text y="8.6">407</text></g>
<g id="s408" class="p" transform="translate(1360.9)"><use href="#q"/><text y="8.6">408</text></g>
<g id="s409" class="p" transform="translate(1426.3)"><use href="#q"/><text y="8.6">409</text></g>
<g id="s410" class="p" transform="translate(1491.7)"><use href="#q"/><text y="8.6">410</text></g>
<g id="s411" class="p" transform="translate(1557.1)"><use href="#q"/><text y="8.6">411</text></g>
<g id="s412" class="p" transform="translate(1622.5)"><use href="#q"/><text y="8.6">412</text></g>
<g id="s413" class="p" transform="translate(1687.9)"><use href="#q"/><text y="8.6">413</text></g>
<g id="s414" class="p" transform="translate(1753.3)"><use href="#q"/><text y="8.6">414</text></g>
<g id="s415" class="p" transform="translate(1818.7)"><use href="#q"/><text y="8.6">415</text></g>
<g id="s416" class="p" transform="translate(1884.1)"><use href="#q"/><text y="8.6">416</text></g>
<g id="s417" class="p" transform="translate(1949.5)"><use href="#q"/><text y="8.6">417</text></g>
<g id="s418" class="p" transform="translate(2014.9)"><use href="#q"/><text y="8.6">418</text></g>
<g id="s419" class="p" transform="translate(2080.8)"><use href="#q"/><text y="8.6">419</text></g>
<g id="s420" class="p" transform="translate(2147)"><use href="#q"/><text y="8.6">420</text></g>
<g id="s421" class="p" transform="translate(2213)"><use href="#q"/><text y="8.6">421</text></g>
<g id="s422" class="p" transform="translate(2277)"><use href="#q"/><text y="8.6">422</text></g>
<g id="s423" class="p" transform="translate(2345.3)"><use href="#q"/><text y="8.6">423</text></g>
<g id="s424" class="p" transform="translate(2411.3)"><use href="#q"/><text y="8.6">424</text></g>
<g id="s425" class="p" transform="translate(2479.6)"><use href="#q"/><text y="8.6">425</text></g>
<g id="s426" class="g" transform="translate(2548.9)"><use href="#c"/><text y="8.6">426</text></g>
<g id="s427" class="g" transform="translate(2615.8)"><use href="#c"/><text y="8.6">427</text></g>
<g id="s428" class="g" transform="translate(2684.6)"><use href="#c"/><text y="8.6">428</text></g>
<g id="s429" class="g" transform="translate(2752)"><use href="#c"/><text y="8.6">429</text></g>
</g>
<g id="row14" class="s" transform="translate(0 1048.5)">
<g id="s430" class="g" transform="translate(215.8)"><use href="#c"/><text y="8.6">430</text></g>
<g id="s431" class="g" transform="translate(281.2)"><use href="#c"/><text y="8.6">431</text></g>
<g id="s432" class="g" transform="translate(346.6)"><use href="#c"/><text y="8.6">432</text></g>
<g id="s433" class="g" transform="translate(412)"><use href="#c"/><text y="8.6">433</text></g>
<g id="s434" class="g" transform="translate(477.4)"><use href="#c"/><text y="8.6">434</text></g>
<g id="s435" class="g" transform="translate(542.8)"><use href="#c"/><text y="8.6">435</text></g>
<g id="s436" class="g" transform="translate(608.2)"><use href="#c"/><text y="8.6">436</text></g>
<g id="s437" class="g" transform="translate(673.6)"><use href="#c"/><text y="8.6">437</text></g>
<g id="s438" class="g" transform="translate(739)"><use href="#c"/><text y="8.6">438</text></g>
<g id="s439" class="g" transform="translate(804.4)"><use href="#c"/><text y="8.6">439</text></g>
<g id="s440" class="g" transform="translate(869.8)"><use href="#c"/><text y="8.6">440</text></g>
<g id="s441" class="g" transform="translate(935.2)"><use href="#c"/><text y="8.6">441</text></g>
<g id="s442" class="g" transform="translate(1000.6)"><use href="#c"/><text y="8.6">442</text></g>
<g id="s443" class="g" transform="translate(1066)"><use href="#c"/><text y="8.6">443</text></g>
<g id="s444" class="g" transform="translate(1131.4)"><use href="#c"/><text y="8.6">444</text></g>
<g id="s445" class="g" transform="translate(1196.8)"><use href="#c"/><text y="8.6">445</text></g>
<g id="s446" class="g" transform="translate(1805.6)"><use href="#c"/><text y="8.6">446</text></g>
<g id="s447" class="g" transform="translate(1871)"><use href="#c"/><text y="8.6">447</text></g>
<g id="s448" class="g" transform="translate(1936.4)"><use href="#c"/><text y="8.6">448</text></g>
<g id="s449" class="g" transform="translate(2001.8)"><use href="#c"/><text y="8.6">449</text></g>
<g id="s450" class="g" transform="translate(2067.2)"><use href="#c"/><text y="8.6">450</text></g>
<g id="s451" class="g" transform="translate(2132.6)"><use href="#c"/><text y="8.6">451</text></g>
<g id="s452" class="g" transform="translate(2198)"><use href="#c"/><text y="8.6">452</text></g>
<g id="s453" class="g" transform="translate(2263.4)"><use href="#c"/><text y="8.6">453</text></g>
<g id="s454" class="g" transform="translate(2328.8)"><use href="#c"/><text y="8.6">454</text></g>
<g id="s455" class="g" transform="translate(2394.2)"><use href="#c"/><text y="8.6">455</text></g>
<g id="s456" class="g" transform="translate(2459.6)"><use href="#c"/><text y="8.6">456</text></g>
<g id="s457" class="g" transform="translate(2525)"><use href="#c"/><text y="8.6">457</text></g>
<g id="s458" class="g" transform="translate(2590.4)"><use href="#c"/><text y="8.6">458</text></g>
<g id="s459" class="g" transform="translate(2655.8)"><use href="#c"/><text y="8.6">459</text></g>
<g id="s460" class="g" transform="translate(2721.2)"><use href="#c"/><text y="8.6">460</text></g>
<g id="s461" class="g" transform="translate(2786.6)"><use href="#c"/><text y="8.6">461</text></g>
</g>
<g id="row15" class="s" transform="translate(0 1118.5)">
<g id="s462" class="d" transform="translate(188.8)"><use href="#e"/><text y="8.6">462</text></g>
<g id="s463" class="d" transform="translate(254.2)"><use href="#e"/><text y="8.6">463</text></g>
<g id="s464" class="d" transform="translate(319.6)"><use href="#e"/><text y="8.6">464</text></g>
<g id="s465" class="d" transform="translate(385)"><use href="#e"/><text y="8.6">465</text></g>
<g id="s466" class="d" transform="translate(450.4)"><use href="#e"/><text y="8.6">466</text></g>
<g id="s467" class="d" transform="translate(515.8)"><use href="#e"/><text y="8.6">467</text></g>
<g id="s468" class="d" transform="translate(581.2)"><use href="#e"/><text y="8.6">468</text></g>
<g id="s469" class="d" transform="translate(646.6)"><use href="#e"/><text y="8.6">469</text></g>
<g id="s470" class="d" transform="translate(712)"><use href="#e"/><text y="8.6">470</text></g>
<g id="s471" class="g" transform="translate(777)"><use href="#c"/><text y="8.6">471</text></g>
<g id="s472" class="g" transform="translate(842.4)"><use href="#c"/><text y="8.6">472</text></g>
<g id="s473" class="g" transform="translate(907.8)"><use href="#c"/><text y="8.6">473</text></g>
<g id="s474" class="g" transform="translate(973.2)"><use href="#c"/><text y="8.6">474</text></g>
<g id="s475" class="g" transform="translate(1038.6)"><use href="#c"/><text y="8.6">475</text></g>
<g id="s476" class="g" transform="translate(1104)"><use href="#c"/><text y="8.6">476</text></g>
<g id="s477" class="g" transform="translate(1169.4)"><use href="#c"/><text y="8.6">477</text></g>
<g id="s478" class="g" transform="translate(2035.4)"><use href="#c"/><text y="8.6">478</text></g>
<g id="s479" class="g" transform="translate(2100.8)"><use href="#c"/><text y="8.6">479</text></g>
<g id="s480" class="g" transform="translate(2166.2)"><use href="#c"/><text y="8.6">480</text></g>
<g id="s481" class="g" transform="translate(2231.6)"><use href="#c"/><text y="8.6">481</text></g>
<g id="s482" class="d" transform="translate(2297)"><use href="#e"/><text y="8.6">482</text></g>
<g id="s483" class="d" transform="translate(2362.6)"><use href="#e"/><text y="8.6">483</text></g>
<g id="s484" class="d" transform="translate(2428)"><use href="#e"/><text y="8.6">484</text></g>
<g id="s485" class="d" transform="translate(2493.4)"><use href="#e"/><text y="8.6">485</text></g>
<g id="s486" class="d" transform="translate(2558.8)"><use href="#e"/><text y="8.6">486</text></g>
<g id="s487" class="d" transform="translate(2624.2)"><use href="#e"/><text y="8.6">487</text></g>
<g id="s488" class="d" transform="translate(2689.6)"><use href="#e"/><text y="8.6">488</text></g>
<g id="s489" class="d" transform="translate(2755)"><use href="#e"/><text y="8.6">489</text></g>
<g id="s490" class="d" transform="translate(2820.6)"><use href="#e"/><text y="8.6">490</text></g>
</g>
</svg>
